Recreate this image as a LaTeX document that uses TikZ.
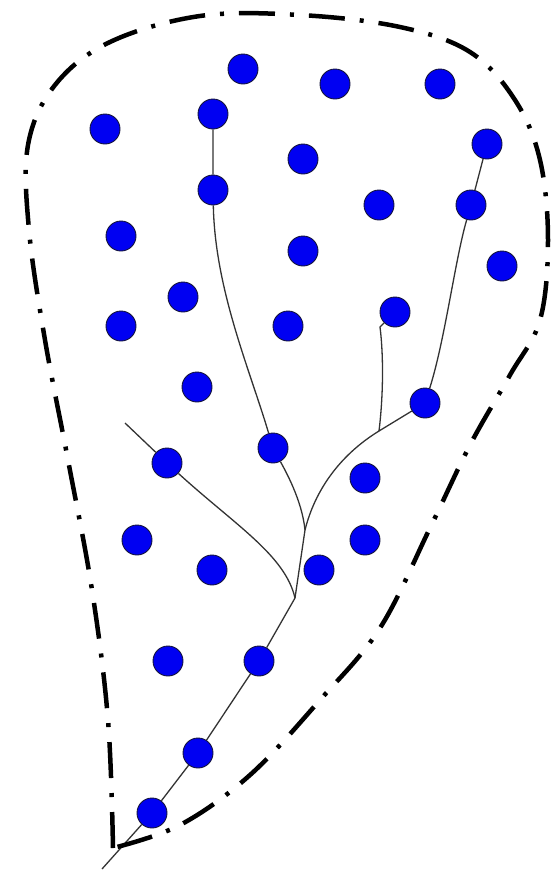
\documentclass[tikz,border=0pt]{standalone}
\usetikzlibrary{backgrounds}
\definecolor{cellblue}{HTML}{0000F2}
\definecolor{cellrim}{HTML}{14143C}
\definecolor{twig}{HTML}{333333}
\tikzset{
  cell/.style={circle, fill=cellblue, draw=cellrim, line width=0.9pt,
               minimum size=30pt, inner sep=0pt},
  twigline/.style={draw=twig, line width=1.3pt},
  hull/.style={draw=black, line width=4.5pt,
               dash pattern=on 36pt off 15pt on 4pt off 15pt}
}

\begin{document}
\begin{tikzpicture}[x=1pt,y=-1pt]
  \useasboundingbox (0,0) rectangle (552,873);

  \node[cell] (c1)  at (243,69)  {};
  \node[cell] (c2)  at (335,84)  {};
  \node[cell] (c3)  at (440,84)  {};
  \node[cell] (c4)  at (105,129) {};
  \node[cell] (c5)  at (213,114) {};
  \node[cell] (c6)  at (303,159) {};
  \node[cell] (c7)  at (487,144) {};
  \node[cell] (c8)  at (213,190) {};
  \node[cell] (c9)  at (379,205) {};
  \node[cell] (c10) at (471,205) {};
  \node[cell] (c11) at (121,236) {};
  \node[cell] (c12) at (303,251) {};
  \node[cell] (c13) at (502,266) {};
  \node[cell] (c14) at (183,297) {};
  \node[cell] (c15) at (121,326) {};
  \node[cell] (c16) at (288,326) {};
  \node[cell] (c17) at (395,312) {};
  \node[cell] (c18) at (197,387) {};
  \node[cell] (c19) at (425,403) {};
  \node[cell] (c20) at (167,463) {};
  \node[cell] (c21) at (273,448) {};
  \node[cell] (c22) at (365,478) {};
  \node[cell] (c23) at (137,540) {};
  \node[cell] (c24) at (365,540) {};
  \node[cell] (c25) at (212,570) {};
  \node[cell] (c26) at (319,570) {};
  \node[cell] (c27) at (168,661) {};
  \node[cell] (c28) at (259,661) {};
  \node[cell] (c29) at (198,753) {};
  \node[cell] (c30) at (152,813) {};

  \coordinate (tip)  at (102,869);
  \coordinate (lend) at (125,423);
  \coordinate (j1)   at (295,598);
  \coordinate (j2)   at (305,530);
  \coordinate (j3)   at (379,431);
  \coordinate (j4)   at (380,327);

  \begin{scope}[on background layer]
    \draw[twigline] (tip) -- (c30) -- (c29) -- (c28) -- (j1) -- (j2);
    \draw[twigline] (j1) .. controls (285,555) and (235,525) .. (c20) -- (lend);
    \draw[twigline] (j2) .. controls (302,500) and (285,470) .. (c21);
    \draw[twigline] (c21) .. controls (250,370) and (215,290) .. (c8) -- (c5);
    \draw[twigline] (j2) .. controls (315,490) and (340,455) .. (j3) -- (c19);
    \draw[twigline] (j3) .. controls (384,390) and (383,350) .. (j4) -- (c17);
    \draw[twigline] (c19) .. controls (445,340) and (455,260) .. (c10) -- (c7);
  \end{scope}

  \draw[hull] plot[smooth, tension=0.6] coordinates {
    (113,848) (108,720) (92,590) (68,460) (45,340) (29,230) (28,145)
    (55,85) (110,42) (200,16) (300,15) (400,27) (470,52) (515,100)
    (540,160) (548,240) (540,320) (510,375) (470,445) (430,528)
    (380,628) (320,700) (250,775) (180,825) (113,848)};
\end{tikzpicture}
\end{document}
